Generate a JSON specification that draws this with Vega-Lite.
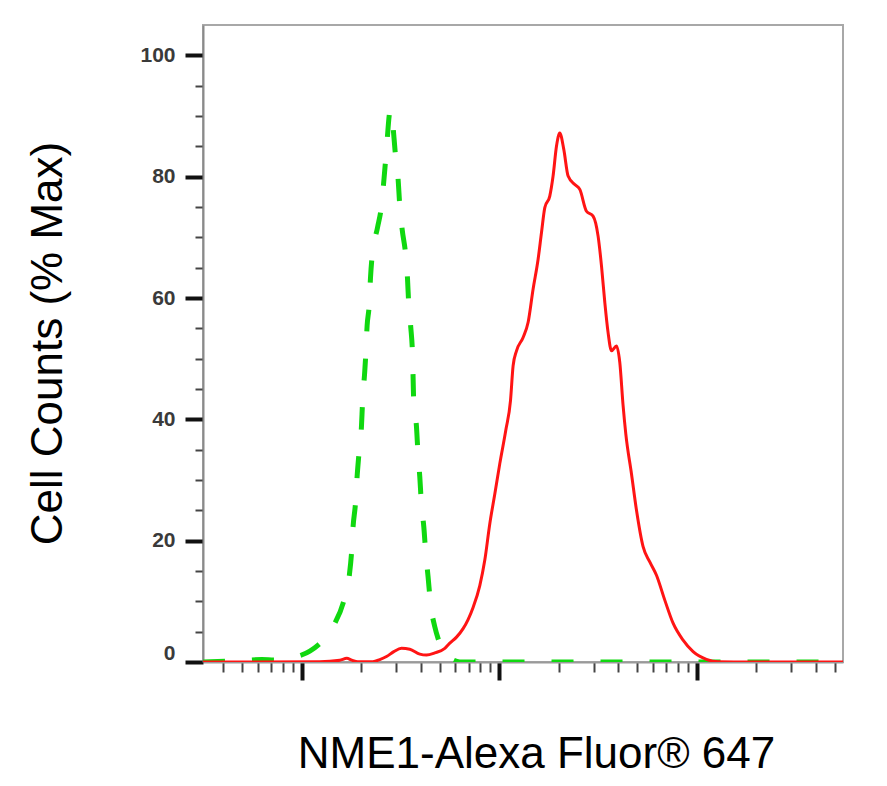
{
  "$schema": "https://vega.github.io/schema/vega-lite/v6.json",
  "width": 640,
  "height": 637,
  "autosize": "none",
  "padding": {"left": 203, "top": 25, "right": 44, "bottom": 124},
  "background": "white",
  "datasets": {
    "isotype": [
      {"intensity": 31.6, "pct_max": 0},
      {"intensity": 48.5, "pct_max": 0.2},
      {"intensity": 62.7, "pct_max": 0.4},
      {"intensity": 73.0, "pct_max": 0.33},
      {"intensity": 86.9, "pct_max": 0.7},
      {"intensity": 99.7, "pct_max": 1.15},
      {"intensity": 109.8, "pct_max": 1.8},
      {"intensity": 120.9, "pct_max": 2.8},
      {"intensity": 133.9, "pct_max": 4.3},
      {"intensity": 147.0, "pct_max": 6.4},
      {"intensity": 161.9, "pct_max": 9.7},
      {"intensity": 173.6, "pct_max": 14.0},
      {"intensity": 178.5, "pct_max": 17.9},
      {"intensity": 181.8, "pct_max": 22.3},
      {"intensity": 187.0, "pct_max": 26.2},
      {"intensity": 190.5, "pct_max": 30.5},
      {"intensity": 194.3, "pct_max": 34.0},
      {"intensity": 200.6, "pct_max": 39.0},
      {"intensity": 202.9, "pct_max": 42.6},
      {"intensity": 208.4, "pct_max": 48.0},
      {"intensity": 210.9, "pct_max": 50.8},
      {"intensity": 214.1, "pct_max": 55.4},
      {"intensity": 219.2, "pct_max": 58.7},
      {"intensity": 222.8, "pct_max": 63.4},
      {"intensity": 227.0, "pct_max": 66.9},
      {"intensity": 241.7, "pct_max": 71.6},
      {"intensity": 253.2, "pct_max": 75.2},
      {"intensity": 261.0, "pct_max": 79.8},
      {"intensity": 266.3, "pct_max": 83.1},
      {"intensity": 281.2, "pct_max": 91.1},
      {"intensity": 299.1, "pct_max": 83.1},
      {"intensity": 307.3, "pct_max": 79.6},
      {"intensity": 313.4, "pct_max": 75.2},
      {"intensity": 321.9, "pct_max": 71.4},
      {"intensity": 336.2, "pct_max": 66.9},
      {"intensity": 342.9, "pct_max": 63.2},
      {"intensity": 348.2, "pct_max": 58.7},
      {"intensity": 356.4, "pct_max": 55.1},
      {"intensity": 363.5, "pct_max": 50.8},
      {"intensity": 369.1, "pct_max": 42.6},
      {"intensity": 380.9, "pct_max": 38.7},
      {"intensity": 388.0, "pct_max": 34.0},
      {"intensity": 395.8, "pct_max": 30.5},
      {"intensity": 403.7, "pct_max": 25.8},
      {"intensity": 414.7, "pct_max": 22.3},
      {"intensity": 424.4, "pct_max": 17.9},
      {"intensity": 436.0, "pct_max": 14.0},
      {"intensity": 448.4, "pct_max": 9.7},
      {"intensity": 471.4, "pct_max": 5.8},
      {"intensity": 494.0, "pct_max": 3.5},
      {"intensity": 519.3, "pct_max": 1.7},
      {"intensity": 583.6, "pct_max": 0.33},
      {"intensity": 631.0, "pct_max": 0},
      {"intensity": 55000, "pct_max": 0}
    ],
    "nme1": [
      {"intensity": 31.6, "pct_max": 0},
      {"intensity": 123.3, "pct_max": 0.05},
      {"intensity": 155.7, "pct_max": 0.3},
      {"intensity": 169.0, "pct_max": 0.6},
      {"intensity": 179.1, "pct_max": 0.3},
      {"intensity": 192.1, "pct_max": 0.05},
      {"intensity": 228.9, "pct_max": 0.05},
      {"intensity": 248.3, "pct_max": 0.4},
      {"intensity": 268.5, "pct_max": 0.9},
      {"intensity": 292.3, "pct_max": 1.7},
      {"intensity": 319.7, "pct_max": 2.25},
      {"intensity": 352.2, "pct_max": 2.1},
      {"intensity": 395.8, "pct_max": 1.3},
      {"intensity": 428.0, "pct_max": 1.15},
      {"intensity": 471.4, "pct_max": 1.5},
      {"intensity": 529.8, "pct_max": 2.25},
      {"intensity": 561.5, "pct_max": 3.1},
      {"intensity": 607.2, "pct_max": 4.1},
      {"intensity": 655.7, "pct_max": 5.5},
      {"intensity": 694.9, "pct_max": 7.0},
      {"intensity": 736.7, "pct_max": 9.0},
      {"intensity": 796.7, "pct_max": 12.6},
      {"intensity": 844.5, "pct_max": 16.8},
      {"intensity": 895.2, "pct_max": 22.8},
      {"intensity": 948.9, "pct_max": 27.7},
      {"intensity": 1005.8, "pct_max": 32.7},
      {"intensity": 1078.7, "pct_max": 38.2},
      {"intensity": 1139.5, "pct_max": 43.1},
      {"intensity": 1174.6, "pct_max": 48.8},
      {"intensity": 1222.1, "pct_max": 51.3},
      {"intensity": 1319.8, "pct_max": 53.5},
      {"intensity": 1399.4, "pct_max": 56.0},
      {"intensity": 1483.4, "pct_max": 61.5},
      {"intensity": 1572.3, "pct_max": 66.4},
      {"intensity": 1635.7, "pct_max": 70.8},
      {"intensity": 1699.9, "pct_max": 74.9},
      {"intensity": 1801.5, "pct_max": 76.8},
      {"intensity": 1872.1, "pct_max": 80.1},
      {"intensity": 1947.6, "pct_max": 85.0},
      {"intensity": 2024.1, "pct_max": 87.2},
      {"intensity": 2121.1, "pct_max": 84.5},
      {"intensity": 2230.7, "pct_max": 80.1},
      {"intensity": 2411.9, "pct_max": 78.7},
      {"intensity": 2556.5, "pct_max": 77.9},
      {"intensity": 2763.3, "pct_max": 74.3},
      {"intensity": 2984.3, "pct_max": 73.5},
      {"intensity": 3164.2, "pct_max": 70.2},
      {"intensity": 3292.0, "pct_max": 65.3},
      {"intensity": 3421.0, "pct_max": 59.3},
      {"intensity": 3555.3, "pct_max": 54.3},
      {"intensity": 3699.1, "pct_max": 51.3},
      {"intensity": 3920.9, "pct_max": 52.1},
      {"intensity": 4074.7, "pct_max": 49.4},
      {"intensity": 4234.2, "pct_max": 42.3},
      {"intensity": 4370.5, "pct_max": 37.6},
      {"intensity": 4671.1, "pct_max": 31.0},
      {"intensity": 4951.3, "pct_max": 25.0},
      {"intensity": 5346.8, "pct_max": 19.0},
      {"intensity": 5780.5, "pct_max": 16.5},
      {"intensity": 6250.7, "pct_max": 14.3},
      {"intensity": 6885.7, "pct_max": 10.2},
      {"intensity": 7585.8, "pct_max": 6.4},
      {"intensity": 8523.5, "pct_max": 3.6},
      {"intensity": 9579, "pct_max": 1.7},
      {"intensity": 11197, "pct_max": 0.44},
      {"intensity": 12830, "pct_max": 0.05},
      {"intensity": 18550, "pct_max": 0},
      {"intensity": 55000, "pct_max": 0}
    ]
  },
  "encoding": {
    "x": {
      "field": "intensity",
      "type": "quantitative",
      "scale": {"type": "log", "domain": [31.6, 55000], "nice": false},
      "axis": {
        "title": "NME1-Alexa Fluor® 647",
        "titleFont": "Liberation Sans",
        "titleFontSize": 44,
        "titleFontWeight": "normal",
        "titleColor": "black",
        "titleAlign": "center",
        "titleBaseline": "alphabetic",
        "titleX": 333,
        "titleY": 105,
        "values": [40, 50, 60, 70, 80, 90, 100, 200, 300, 400, 500, 600, 700, 800, 900, 1000, 2000, 3000, 4000, 5000, 6000, 7000, 8000, 9000, 10000, 20000, 30000, 40000, 50000],
        "labels": false,
        "grid": false,
        "domainColor": "#9a9a9a",
        "domainWidth": 2,
        "tickSize": {"condition": {"test": "datum.value === 100 || datum.value === 1000 || datum.value === 10000", "value": 18}, "value": 10},
        "tickWidth": {"condition": {"test": "datum.value === 100 || datum.value === 1000 || datum.value === 10000", "value": 4}, "value": 2},
        "tickColor": {"condition": {"test": "datum.value === 100 || datum.value === 1000 || datum.value === 10000", "value": "#111111"}, "value": "#444444"}
      }
    },
    "y": {
      "field": "pct_max",
      "type": "quantitative",
      "scale": {"domain": [0, 105], "nice": false},
      "axis": {
        "title": "Cell Counts (% Max)",
        "titleFont": "Liberation Sans",
        "titleFontSize": 44,
        "titleFontWeight": "normal",
        "titleColor": "black",
        "titleAngle": -90,
        "titleAlign": "center",
        "titleBaseline": "alphabetic",
        "titleX": -142,
        "titleY": 318,
        "values": [0, 5, 10, 15, 20, 25, 30, 35, 40, 45, 50, 55, 60, 65, 70, 75, 80, 85, 90, 95, 100],
        "labelExpr": "datum.value % 20 === 0 ? datum.label : ''",
        "labelFont": "Liberation Sans",
        "labelFontSize": 21,
        "labelFontWeight": "bold",
        "labelColor": "#3a3a3a",
        "labelPadding": 10,
        "labelOffset": {"condition": {"test": "datum.value === 0", "value": -9}, "value": 0},
        "grid": false,
        "domainColor": "#8a8a8a",
        "domainWidth": 2,
        "tickSize": {"condition": {"test": "datum.value % 20 === 0", "value": 18}, "value": 8},
        "tickWidth": {"condition": {"test": "datum.value % 20 === 0", "value": 4}, "value": 2},
        "tickColor": {"condition": {"test": "datum.value % 20 === 0", "value": "#111111"}, "value": "#444444"}
      }
    }
  },
  "layer": [
    {
      "data": {"name": "isotype"},
      "mark": {"type": "line", "color": "#10d810", "strokeWidth": 5, "strokeDash": [22, 27], "strokeCap": "butt", "interpolate": "monotone", "clip": true}
    },
    {
      "data": {"name": "nme1"},
      "mark": {"type": "line", "color": "#ff1414", "strokeWidth": 3, "interpolate": "monotone", "clip": true}
    }
  ],
  "config": {
    "view": {"stroke": "#a8a8a8", "strokeWidth": 2}
  }
}
